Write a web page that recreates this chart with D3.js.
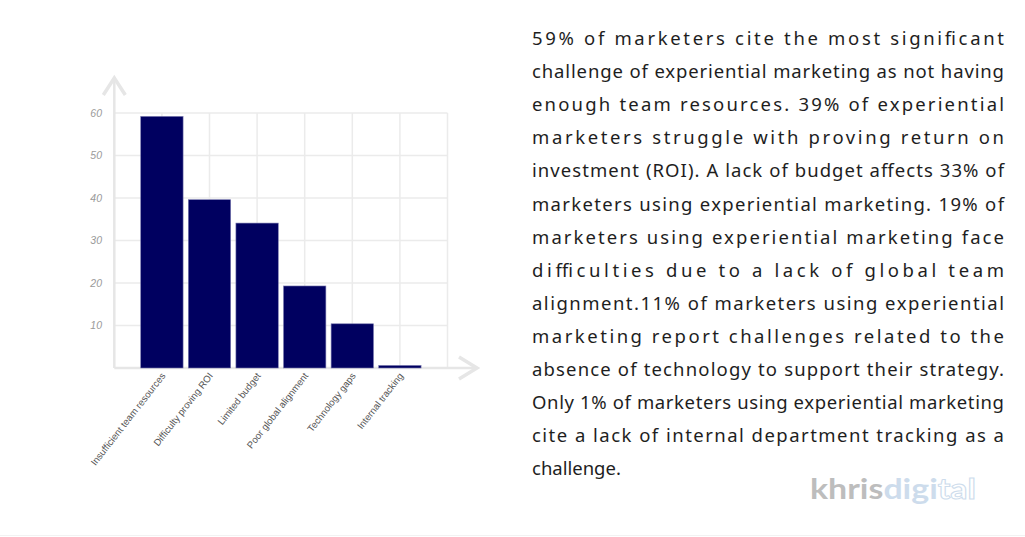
<!DOCTYPE html>
<html>
<head>
<meta charset="utf-8">
<script src="https://cdn.jsdelivr.net/npm/d3@7"></script>
<style>
html,body{margin:0;padding:0;background:#fff;}
svg{display:block;}
</style>
</head>
<body>
<svg id="chart" width="1025" height="537"></svg>
<script>
const categories = ["Insufficient team resources","Difficulty proving ROI","Limited budget","Poor global alignment","Technology gaps","Internal tracking"];
const values = [59.2, 39.6, 34.1, 19.3, 10.4, 0.6];
const yTicks = [10, 20, 30, 40, 50, 60];
const descriptionLines = [
  "59% of marketers cite the most significant",
  "challenge of experiential marketing as not having",
  "enough team resources. 39% of experiential",
  "marketers struggle with proving return on",
  "investment (ROI). A lack of budget affects 33% of",
  "marketers using experiential marketing. 19% of",
  "marketers using experiential marketing face",
  "difficulties due to a lack of global team",
  "alignment.11% of marketers using experiential",
  "marketing report challenges related to the",
  "absence of technology to support their strategy.",
  "Only 1% of marketers using experiential marketing",
  "cite a lack of internal department tracking as a",
  "challenge."
];
const logoParts = ["khris", "digi", "tal"];

const svg = d3.select("#chart");
const x0 = 114.3, x1 = 447.5, yBase = 368, yTop = 113;
const x = d3.scaleLinear().domain([0, categories.length + 1]).range([x0, x1]);
const y = d3.scaleLinear().domain([0, 60]).range([yBase, yTop]);
const step = x(1) - x(0);
const barW = step * 0.89;
const gridCol = "#ebebeb";

// grid
const g = svg.append("g");
g.selectAll("line.h").data(yTicks).enter().append("line")
  .attr("x1", x0).attr("x2", x1).attr("y1", d => y(d)).attr("y2", d => y(d))
  .attr("stroke", gridCol).attr("stroke-width", 1.5);
g.selectAll("line.v").data(d3.range(1, categories.length + 2)).enter().append("line")
  .attr("x1", d => x(d)).attr("x2", d => x(d)).attr("y1", yTop).attr("y2", yBase)
  .attr("stroke", gridCol).attr("stroke-width", 1.5);

// axes with arrows
const axCol = "#e6e6e6";
svg.append("line").attr("x1", x0).attr("x2", x0).attr("y1", yBase).attr("y2", 78)
  .attr("stroke", axCol).attr("stroke-width", 2.5);
svg.append("path").attr("d", `M${x0-11},95 L${x0},78 L${x0+11},95`)
  .attr("fill", "none").attr("stroke", axCol).attr("stroke-width", 3.5);
svg.append("line").attr("x1", x0).attr("x2", 477).attr("y1", yBase).attr("y2", yBase)
  .attr("stroke", axCol).attr("stroke-width", 2.5);
svg.append("path").attr("d", `M459,${yBase-11} L477,${yBase} L459,${yBase+11}`)
  .attr("fill", "none").attr("stroke", axCol).attr("stroke-width", 3.5);

// y tick labels
svg.selectAll("text.yt").data(yTicks).enter().append("text")
  .attr("x", 102).attr("y", d => y(d)).attr("dy", "0.35em")
  .attr("text-anchor", "end")
  .style("font-family", "'Liberation Sans', Arial, sans-serif")
  .style("font-style", "italic").style("font-size", "10.5px").style("fill", "#9a9a9a")
  .text(d => d);

// bars
svg.selectAll("rect.bar").data(values).enter().append("rect")
  .attr("x", (d, i) => x(i + 1) - barW / 2)
  .attr("width", barW)
  .attr("y", d => y(d))
  .attr("height", d => y(0) - y(d))
  .attr("fill", "#000060")
  .attr("stroke", "#7a7ab0").attr("stroke-width", 0.6);

// x labels
svg.selectAll("text.xl").data(categories).enter().append("text")
  .attr("transform", (d, i) => `translate(${x(i + 1) + 4},${yBase + 8}) rotate(-52)`)
  .attr("text-anchor", "end")
  .style("font-family", "'Liberation Sans', Arial, sans-serif")
  .style("font-size", "9.6px").style("fill", "#555")
  .text(d => d);

// description paragraph
const tx0 = 532, tx1 = 1004;
svg.selectAll("text.desc").data(descriptionLines).enter().append("text")
  .attr("x", tx0).attr("y", (d, i) => 45 + i * 33.1)
  .attr("textLength", (d, i) => i < descriptionLines.length - 1 ? tx1 - tx0 : null)
  .attr("lengthAdjust", "spacing")
  .style("font-family", "'Noto Sans', 'Open Sans', sans-serif")
  .style("font-size", "18.5px").style("font-weight", 400).style("fill", "#1e1e1e")
  .text(d => d);

// logo
const logo = svg.append("text").attr("x", 810).attr("y", 499)
  .attr("textLength", 166).attr("lengthAdjust", "spacingAndGlyphs")
  .style("font-family", "'Lato', sans-serif").style("font-size", "29px").style("font-weight", 700);
logo.append("tspan").text(logoParts[0]).style("fill", "#bdbdbd");
logo.append("tspan").text(logoParts[1]).style("fill", "#cddcec");
logo.append("tspan").text(logoParts[2]).style("fill", "#fff").style("stroke", "#cddcec").style("stroke-width", 1);

svg.append("line").attr("x1", 0).attr("x2", 1025).attr("y1", 535.5).attr("y2", 535.5)
  .attr("stroke", "#f2f2f2").attr("stroke-width", 1);
</script>
</body>
</html>
